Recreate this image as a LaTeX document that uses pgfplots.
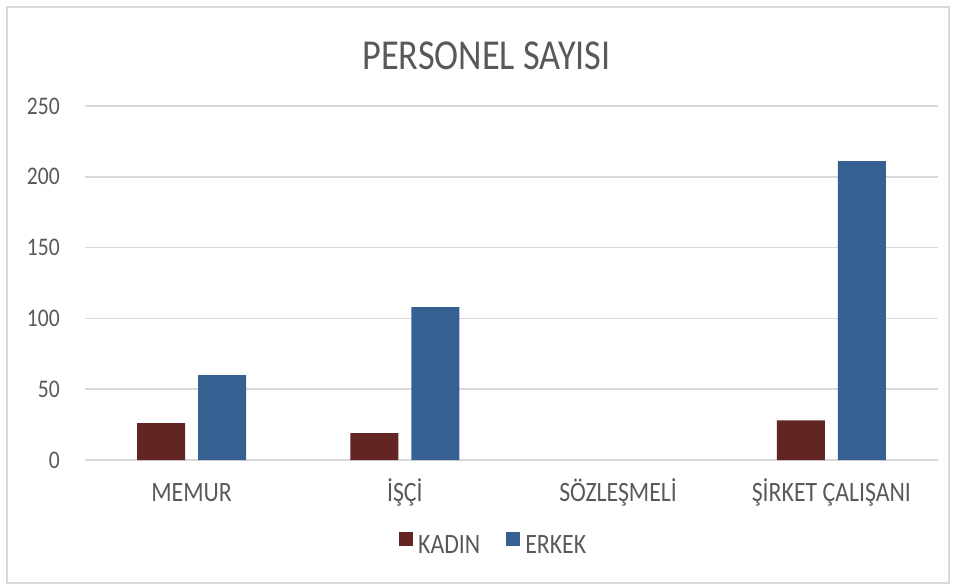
\documentclass[border=0pt]{standalone}
\usepackage{pgfplots}
\pgfplotsset{compat=1.18}
\usepackage{fontspec}
\setmainfont{Carlito}[FakeStretch=0.85]
\definecolor{kadin}{HTML}{632523}
\definecolor{erkek}{HTML}{376092}
\definecolor{gridc}{HTML}{D9D9D9}
\definecolor{textc}{HTML}{595959}
\begin{document}
\begin{tikzpicture}
\path[use as bounding box] (0,0) rectangle (717pt,439.5pt);
\draw[gridc, line width=1.1pt] (5.25pt,2.25pt) rectangle (711.75pt,434.25pt);
\node[anchor=base, text=textc, font=\fontsize{32}{38}\selectfont, inner sep=0pt] at (364.9pt,387pt) {PERSONEL SAYISI};
\begin{axis}[
  at={(63.75pt,94.5pt)}, anchor=south west,
  scale only axis, width=639.75pt, height=265.5pt,
  ybar=9.75pt, bar width=36pt,
  xmin=-0.5, xmax=3.5, ymin=0, ymax=250,
  xtick={0,1,2,3},
  xticklabels={MEMUR, İŞÇİ, SÖZLEŞMELİ, ŞİRKET ÇALIŞANI},
  ytick={0,50,100,150,200,250},
  major tick length=0pt,
  axis line style={draw=none},
  ymajorgrids, grid style={gridc, line width=1.1pt},
  /pgf/number format/assume math mode=true,
  yticklabel style={font=\fontsize{19}{22}\selectfont, text=textc, anchor=east, inner sep=0pt, xshift=-18.75pt},
  xticklabel style={font=\fontsize{21}{25}\selectfont, text=textc, anchor=base, inner sep=0pt, yshift=-30.75pt},
  legend columns=2,
  legend style={draw=none, fill=none, at={(0.368,-0.237)}, anchor=west, inner sep=0pt,
    font=\fontsize{21}{25}\selectfont, text=textc,
    nodes={inner sep=0pt},
    column sep=3.75pt,
    /tikz/every even column/.append style={column sep=19.5pt}},
  legend image code/.code={\fill[#1] (0pt,0pt) rectangle (10.5pt,10.5pt);},
  unbounded coords=discard,
  y filter/.expression={y==0 ? nan : y},
]
\addplot[fill=kadin, draw=none] coordinates {(0,26) (1,19) (2,0) (3,28)};
\addplot[fill=erkek, draw=none] coordinates {(0,60) (1,108) (2,0) (3,211)};
\legend{KADIN, ERKEK}
\end{axis}
\end{tikzpicture}
\end{document}
